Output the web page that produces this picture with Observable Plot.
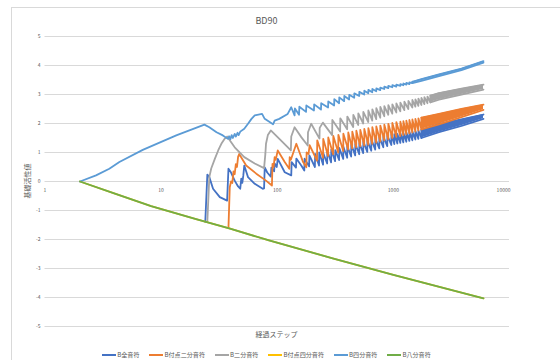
<!DOCTYPE html>
<html><head><meta charset="utf-8">
<script src="https://cdn.jsdelivr.net/npm/d3@7"></script>
<script src="https://cdn.jsdelivr.net/npm/@observablehq/plot@0.6"></script>
<style>
html,body{margin:0;padding:0;background:#fff;overflow:hidden;width:560px;height:360px;}
body{font-family:"Noto Sans CJK JP","Noto Sans",sans-serif;color:#595959;position:relative;}
#frame{position:absolute;left:11px;top:7px;width:620px;height:420px;border:1px solid #d9d9d9;box-sizing:border-box;}
#title{position:absolute;left:0;width:533px;top:14px;text-align:center;font-size:9px;line-height:14px;}
#chart{position:absolute;left:0;top:0;}
#ylabel{position:absolute;left:27px;top:181px;transform:translate(-50%,-50%) rotate(-90deg);font-size:7px;white-space:nowrap;}
#xlabel{position:absolute;left:276.5px;top:334px;transform:translate(-50%,-50%);font-size:7px;white-space:nowrap;}
#legend{position:absolute;left:0;width:533px;top:349px;display:flex;justify-content:center;gap:10px;font-size:6.1px;line-height:12px;}
.item{display:flex;align-items:center;white-space:nowrap;}
.sw{width:14px;height:2px;margin-right:1px;}
</style></head><body>
<div id="frame"></div>
<div id="title"></div>
<div id="chart"></div>
<div id="ylabel"></div><div id="xlabel"></div><div id="legend"></div>
<script>
const titleText = "BD90";
const xTitle = "経過ステップ";
const yTitle = "基礎活性値";
const xTicks = [1, 10, 100, 1000, 10000];
const yTicks = [-5, -4, -3, -2, -1, 0, 1, 2, 3, 4, 5];
const seriesNames = ["B全音符", "B付点二分音符", "B二分音符", "B付点四分音符", "B四分音符", "B八分音符"];
const seriesColors = ["#4472C4", "#ED7D31", "#A5A5A5", "#FFC000", "#5B9BD5", "#70AD47"];

// [step, value]
const zenOnpu = [[24,-1.39],[25,0.24],[26,0.15],[28,-0.25],[32,-0.54],[37,-0.66],[38,0.44],[40,0.31],[43,0.03],[46,-0.17],[48,-0.25],[49,0.1],[50,-0.05],[51,0.2],[52,0.55],[56,0.15],[64,-0.08],[75,-0.25],[77,-0.24],[78,0.49],[82,0.31],[88,0.17],[89,0.48],[93,0.38],[94,0.35],[95,0.62],[99,0.5],[101,0.78],[116,0.32],[132,0.21],[133,0.67],[145,0.48],[146,0.79],[161,0.55],[171,0.38],[172,0.79],[188,0.52],[189,0.9],[211,0.5],[212,0.95],[229,0.55],[230,1.0],[248,0.58],[249,0.98],[269,0.62],[270,1.06],[291,0.66],[292,1.1],[315,0.7],[316,1.08],[341,0.74],[342,1.16],[370,0.78],[371,1.2],[400,0.82],[401,1.22],[433,0.86],[434,1.27],[469,0.9],[470,1.3],[508,0.94],[509,1.33],[550,0.98],[551,1.38],[596,1.02],[597,1.41],[645,1.06],[646,1.45],[698,1.1],[699,1.48],[756,1.14],[757,1.52],[819,1.18],[820,1.55],[886,1.22],[887,1.58],[960,1.26],[961,1.62],[1019,1.29],[1020,1.63],[1082,1.31],[1083,1.64],[1148,1.33],[1149,1.66],[1219,1.35],[1220,1.67],[1293,1.37],[1294,1.69],[1373,1.4],[1374,1.71],[1457,1.42],[1458,1.72],[1547,1.45],[1548,1.74],[1642,1.47],[1643,1.76],[1743,1.5],[1744,1.78]];
const zenOnpuBand = [[1744,1.5,1.78],[2470,1.7,1.98],[3857,1.92,2.14],[5970,2.16,2.31]];

const futenNibu = [[38,-1.6],[39,-0.2],[40,0.0],[41,-0.05],[42,0.35],[43,0.25],[44,0.6],[45,0.5],[46,0.85],[47,0.95],[54,0.55],[66,0.27],[80,0.03],[90,-0.14],[91,0.61],[93,0.5],[95,0.84],[97,0.75],[101,1.07],[116,0.67],[127,0.44],[128,0.84],[131,0.75],[146,1.3],[167,0.67],[178,0.49],[179,1.0],[186,0.95],[190,1.25],[220,0.72],[221,1.42],[248,0.82],[249,1.47],[274,0.88],[275,1.52],[303,0.94],[304,1.57],[335,1.0],[336,1.61],[370,1.05],[371,1.65],[408,1.1],[409,1.69],[442,1.14],[443,1.72],[479,1.18],[480,1.75],[518,1.21],[519,1.78],[561,1.24],[562,1.81],[608,1.27],[609,1.84],[658,1.3],[659,1.87],[712,1.34],[713,1.9],[771,1.38],[772,1.93],[835,1.42],[836,1.96],[904,1.46],[905,1.99],[979,1.5],[980,2.02],[1060,1.54],[1061,2.05],[1148,1.57],[1149,2.06],[1219,1.6],[1220,2.08],[1293,1.63],[1294,2.1],[1373,1.66],[1374,2.12],[1457,1.69],[1458,2.14],[1547,1.72],[1548,2.16],[1642,1.76],[1643,2.18],[1743,1.8],[1744,2.2]];
const futenNibuBand = [[1744,1.8,2.2],[2470,1.97,2.33],[3857,2.22,2.5],[5970,2.47,2.65]];

const nibu = [[25,-1.39],[26,0.15],[27,0.45],[29,0.78],[31,1.07],[33,1.3],[35,1.46],[37,1.55],[43,1.18],[52,0.84],[64,0.62],[77,0.46],[79,0.95],[80,1.3],[83,1.6],[88,1.76],[108,1.41],[131,1.07],[132,1.55],[141,1.87],[161,1.53],[183,1.24],[184,1.7],[196,1.99],[231,1.48],[232,1.85],[247,2.03],[297,1.6],[298,2.12],[348,1.72],[349,2.18],[400,1.8],[401,2.24],[451,1.88],[452,2.3],[498,1.95],[499,2.35],[550,2.0],[551,2.4],[608,2.05],[609,2.45],[658,2.1],[659,2.49],[712,2.15],[713,2.53],[771,2.2],[772,2.57],[835,2.25],[836,2.6],[904,2.3],[905,2.63],[979,2.34],[980,2.66],[1060,2.38],[1061,2.69],[1148,2.42],[1149,2.72],[1243,2.46],[1244,2.75],[1346,2.5],[1347,2.78],[1457,2.55],[1458,2.81],[1547,2.58],[1548,2.83],[1642,2.61],[1643,2.86],[1743,2.64],[1744,2.88],[1850,2.67],[1851,2.91],[1964,2.7],[1965,2.93],[2083,2.73],[2084,2.96]];
const nibuBand = [[2084,2.73,2.96],[2470,2.82,3.05],[3857,3.0,3.2],[5970,3.17,3.34]];

const futenShibu = [[2,0],[4,-0.42],[8.2,-0.85],[20,-1.3],[38.6,-1.62],[85,-2.03],[300,-2.65],[1000,-3.22],[5970,-4.03]];

const shibu = [[2,0],[2.75,0.21],[3.58,0.44],[4.37,0.67],[6.95,1.09],[13.5,1.59],[23.6,1.96],[26,1.87],[30,1.7],[34,1.59],[37.6,1.47],[38.5,1.56],[39.5,1.46],[40.5,1.6],[41.5,1.5],[43,1.64],[44,1.55],[45.5,1.68],[46.5,1.6],[48,1.72],[52,1.82],[56,1.99],[60,2.16],[64,2.28],[74,2.33],[78,2.16],[92,1.97],[95,2.1],[104,2.16],[123,2.33],[132,2.56],[141,2.28],[142,2.52],[154,2.3],[155,2.58],[177,2.4],[178,2.62],[207,2.45],[208,2.66],[238,2.48],[239,2.7],[274,2.55],[275,2.76],[309,2.62],[310,2.84],[341,2.7],[342,2.9],[377,2.77],[378,2.95],[416,2.83],[417,2.99],[460,2.89],[461,3.04],[508,2.95],[509,3.09],[561,3.0],[562,3.13],[608,3.04],[609,3.16],[658,3.08],[659,3.19],[712,3.11],[713,3.21],[771,3.15],[772,3.24],[835,3.19],[836,3.27],[904,3.22],[905,3.3],[979,3.25],[980,3.32],[1060,3.27],[1061,3.34],[1148,3.3],[1149,3.36],[1219,3.32],[1220,3.38],[1293,3.34],[1294,3.4],[1373,3.36],[1374,3.42],[1457,3.39],[1458,3.44]];
const shibuBand = [[1458,3.39,3.44],[1744,3.47,3.53],[2470,3.63,3.69],[3857,3.84,3.89],[5970,4.1,4.15]];

const hachibu = [[2,0],[4,-0.42],[8.2,-0.85],[20,-1.3],[38.6,-1.62],[85,-2.03],[300,-2.65],[1000,-3.22],[5970,-4.03]];

const lines = [zenOnpu, futenNibu, nibu, futenShibu, shibu, hachibu];
const bands = [zenOnpuBand, futenNibuBand, nibuBand, null, shibuBand, null];

document.getElementById("title").textContent = titleText;
document.getElementById("xlabel").textContent = xTitle;
document.getElementById("ylabel").textContent = yTitle;

const SW = 1.8;
const seriesMarks = [];
lines.forEach((pts, i) => {
  const color = seriesColors[i];
  const rows = pts.map(([t, v]) => ({t, v}));
  seriesMarks.push(Plot.line(rows, {x: "t", y: "v", stroke: color, strokeWidth: SW, strokeLinejoin: "round"}));
  if (bands[i]) {
    const b = bands[i].map(([t, lo, hi]) => ({t, lo, hi}));
    seriesMarks.push(Plot.areaY(b, {x: "t", y1: "lo", y2: "hi", fill: color}));
    seriesMarks.push(Plot.line(b, {x: "t", y: "lo", stroke: color, strokeWidth: SW, strokeLinejoin: "round"}));
    seriesMarks.push(Plot.line(b, {x: "t", y: "hi", stroke: color, strokeWidth: SW, strokeLinejoin: "round"}));
  }
});

const xTickRows = xTicks.map(t => ({t, v: 0, label: String(t)}));

const chart = Plot.plot({
  width: 560, height: 340,
  marginLeft: 44.5, marginRight: 51, marginTop: 36, marginBottom: 14,
  x: {type: "log", domain: [1, 10000], axis: null},
  y: {domain: [-5, 5]},
  style: {fontFamily: "'Noto Sans CJK JP', 'Noto Sans', sans-serif", fontSize: "5px", color: "#595959", background: "transparent", overflow: "visible"},
  marks: [
    Plot.gridY(yTicks, {stroke: "#d9d9d9", strokeOpacity: 1, strokeWidth: 1}),
    Plot.axisY(yTicks, {tickSize: 0, tickPadding: 4.5, tickFormat: d => String(d), label: null, fontSize: 5, fill: "#595959"}),
    Plot.text(xTickRows.slice(0, -1), {x: "t", y: "v", text: "label", dy: 8.5, fontSize: 5, fill: "#595959"}),
    Plot.text(xTickRows.slice(-1), {x: "t", y: "v", text: "label", dy: 8.5, dx: 1, textAnchor: "end", fontSize: 5, fill: "#595959"}),
    ...seriesMarks
  ]
});
document.getElementById("chart").appendChild(chart);

const legend = document.getElementById("legend");
seriesNames.forEach((n, i) => {
  const it = document.createElement("div"); it.className = "item";
  const sw = document.createElement("span"); sw.className = "sw"; sw.style.background = seriesColors[i];
  const tx = document.createElement("span"); tx.textContent = n;
  it.appendChild(sw); it.appendChild(tx); legend.appendChild(it);
});
</script>
</body></html>
